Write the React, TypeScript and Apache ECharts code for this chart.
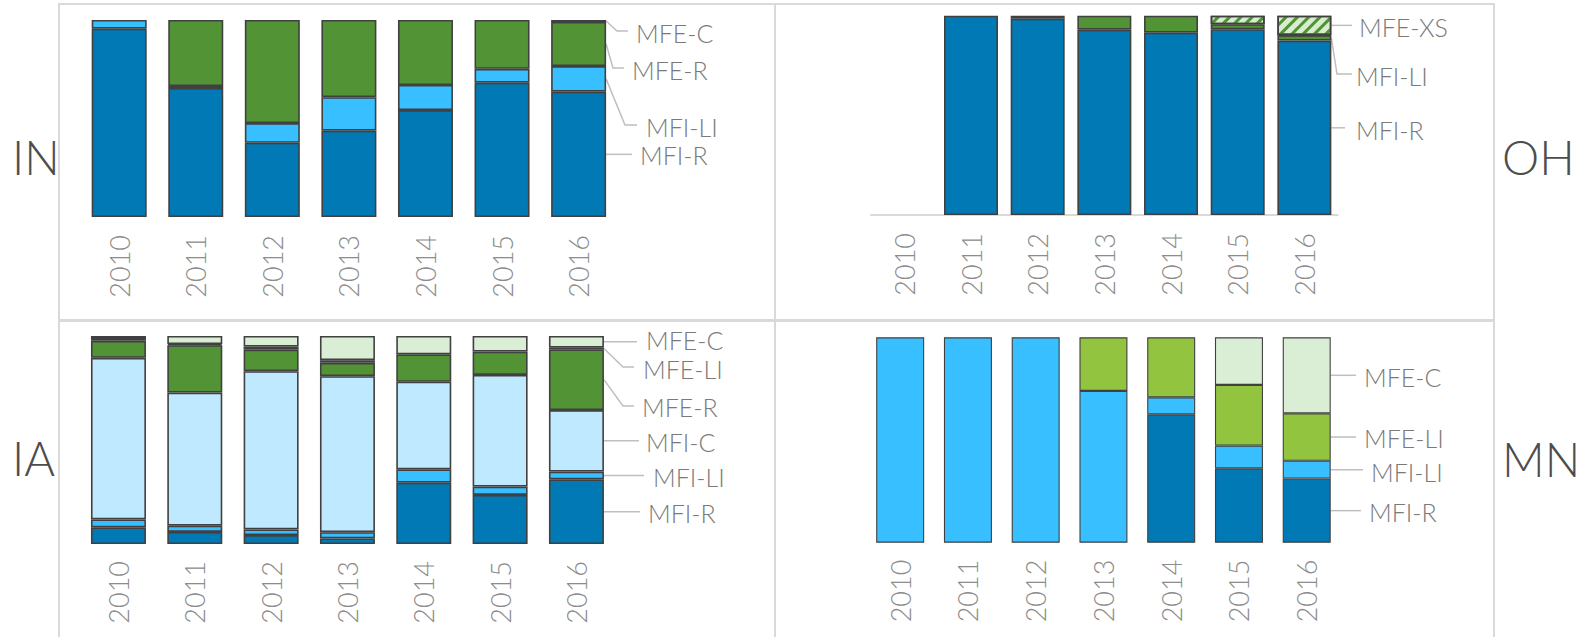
import React, { useEffect, useRef } from "react";
import * as echarts from "echarts";

// ---------- data ----------
const years = ["2010", "2011", "2012", "2013", "2014", "2015", "2016"];

// IN
const inMfiR = [95.6, 65.5, 37.7, 43.8, 54.3, 68.2, 63.6];
const inMfiLi = [4.4, 1.0, 10.0, 17.0, 12.7, 7.0, 13.0];
const inMfeR = [0, 33.5, 52.3, 39.2, 33.0, 24.8, 22.4];
const inMfeC = [0, 0, 0, 0, 0, 0, 1.0];

// OH
const ohMfiR = [0, 100, 98.5, 93.0, 91.5, 93.2, 87.5];
const ohMfiLi = [0, 0, 1.5, 7.0, 8.5, 2.5, 2.8];
const ohMfeXs = [0, 0, 0, 0, 0, 4.3, 9.7];

// IA
const iaMfiR = [8.0, 5.8, 4.3, 2.7, 29.5, 23.6, 31.1];
const iaMfiLi = [3.8, 3.0, 2.7, 3.0, 6.4, 4.0, 3.7];
const iaMfiC = [77.7, 64.0, 76.1, 75.0, 42.1, 53.7, 29.6];
const iaMfeR = [8.2, 22.8, 10.3, 6.4, 13.2, 11.2, 29.2];
const iaMfeLi = [1.3, 0.5, 1.5, 1.3, 0, 0, 0.8];
const iaMfeC = [1.0, 3.9, 5.1, 11.6, 8.8, 7.5, 5.6];

// MN
const mnMfiR = [0, 0, 0, 0, 62.5, 36.2, 31.2];
const mnMfiLi = [100, 100, 100, 73.9, 8.3, 11.1, 8.7];
const mnMfeLi = [0, 0, 0, 26.1, 29.2, 29.5, 23.1];
const mnMfeC = [0, 0, 0, 0, 0, 23.2, 37.0];

// ---------- styles ----------
const C = {
  mfiR: "#0079b4",
  mfiLi: "#38bfff",
  mfiC: "#bfe9ff",
  mfeR: "#529435",
  mfeLi: "#92c43f",
  mfeC: "#daeed5",
  mfeXs: "#d8ecd0",
};
const FONT = "Lato, 'Noto Sans', sans-serif";

type S = { name: string; data: number[]; color: string; hatch?: boolean };
type L = { name: string; textX: number; textY: number; endX: number; elbow?: [number, number] };
type P = {
  state: string;
  stateX: number;
  stateY: number;
  grid: { left: number; top: number; width: number; height: number };
  barWidth: number;
  border: number;
  axisLine: boolean;
  labelMargin: number;
  series: S[];
  labels: L[];
};

const panels: P[] = [
  {
    state: "IN",
    stateX: 12,
    stateY: 157,
    grid: { left: 80.9, top: 20, width: 536, height: 197 },
    barWidth: 55,
    border: 1.6,
    axisLine: false,
    labelMargin: 18,
    series: [
      { name: "MFI-R", data: inMfiR, color: C.mfiR },
      { name: "MFI-LI", data: inMfiLi, color: C.mfiLi },
      { name: "MFE-R", data: inMfeR, color: C.mfeR },
      { name: "MFE-C", data: inMfeC, color: C.mfeC },
    ],
    labels: [
      { name: "MFE-C", textX: 636, textY: 33, endX: 628, elbow: [617, 31] },
      { name: "MFE-R", textX: 632, textY: 70, endX: 624, elbow: [613, 68] },
      { name: "MFI-LI", textX: 646, textY: 127, endX: 637, elbow: [625, 125] },
      { name: "MFI-R", textX: 640, textY: 155, endX: 632 },
    ],
  },
  {
    state: "OH",
    stateX: 1502,
    stateY: 157,
    grid: { left: 871, top: 15.7, width: 466.7, height: 199.3 },
    barWidth: 54,
    border: 1.6,
    axisLine: true,
    labelMargin: 18,
    series: [
      { name: "MFI-R", data: ohMfiR, color: C.mfiR },
      { name: "MFI-LI", data: ohMfiLi, color: C.mfeR },
      { name: "MFE-XS", data: ohMfeXs, color: C.mfeXs, hatch: true },
    ],
    labels: [
      { name: "MFE-XS", textX: 1359, textY: 27, endX: 1352 },
      { name: "MFI-LI", textX: 1356, textY: 76, endX: 1352, elbow: [1337, 74] },
      { name: "MFI-R", textX: 1356, textY: 130, endX: 1345 },
    ],
  },
  {
    state: "IA",
    stateX: 12,
    stateY: 458,
    grid: { left: 80.3, top: 336, width: 534.3, height: 208 },
    barWidth: 55,
    border: 1.6,
    axisLine: false,
    labelMargin: 17,
    series: [
      { name: "MFI-R", data: iaMfiR, color: C.mfiR },
      { name: "MFI-LI", data: iaMfiLi, color: C.mfiLi },
      { name: "MFI-C", data: iaMfiC, color: C.mfiC },
      { name: "MFE-R", data: iaMfeR, color: C.mfeR },
      { name: "MFE-LI", data: iaMfeLi, color: C.mfeLi },
      { name: "MFE-C", data: iaMfeC, color: C.mfeC },
    ],
    labels: [
      { name: "MFE-C", textX: 646, textY: 340, endX: 637 },
      { name: "MFE-LI", textX: 643, textY: 369, endX: 634, elbow: [623, 367] },
      { name: "MFE-R", textX: 642, textY: 407, endX: 634, elbow: [623, 406] },
      { name: "MFI-C", textX: 646, textY: 442, endX: 639 },
      { name: "MFI-LI", textX: 653, textY: 477, endX: 644 },
      { name: "MFI-R", textX: 648, textY: 513, endX: 640 },
    ],
  },
  {
    state: "MN",
    stateX: 1502,
    stateY: 459,
    grid: { left: 866.3, top: 337.3, width: 474.3, height: 205.4 },
    barWidth: 48,
    border: 1.1,
    axisLine: false,
    labelMargin: 17,
    series: [
      { name: "MFI-R", data: mnMfiR, color: C.mfiR },
      { name: "MFI-LI", data: mnMfiLi, color: C.mfiLi },
      { name: "MFE-LI", data: mnMfeLi, color: C.mfeLi },
      { name: "MFE-C", data: mnMfeC, color: C.mfeC },
    ],
    labels: [
      { name: "MFE-C", textX: 1364, textY: 377, endX: 1356 },
      { name: "MFE-LI", textX: 1364, textY: 438, endX: 1356 },
      { name: "MFI-LI", textX: 1371, textY: 472, endX: 1363 },
      { name: "MFI-R", textX: 1369, textY: 512, endX: 1361 },
    ],
  },
];

const frames = [
  { x: 59, y: 4, w: 716, h: 316 },
  { x: 775, y: 4, w: 719, h: 316 },
  { x: 59, y: 321, w: 716, h: 330 },
  { x: 775, y: 321, w: 719, h: 330 },
];

export default function App() {
  const ref = useRef<HTMLDivElement>(null);
  useEffect(() => {
    document.body.style.margin = "0";
    const chart = echarts.init(ref.current!, null, { renderer: "svg" });
    const series: any[] = [];
    panels.forEach((p, gi) => {
      p.series.forEach((s) => {
        series.push({
          type: "bar",
          name: `${p.state} ${s.name}`,
          stack: p.state,
          xAxisIndex: gi,
          yAxisIndex: gi,
          barWidth: p.barWidth,
          data: s.data.map((v) => (v === 0 ? null : v)),
          itemStyle: {
            color: s.color,
            borderColor: "#404040",
            borderWidth: p.border,
            decal: s.hatch
              ? {
                  symbol: "rect",
                  symbolSize: 1,
                  color: "#4f9433",
                  dashArrayX: [1, 0],
                  dashArrayY: [3, 5],
                  rotation: -Math.PI / 4,
                }
              : undefined,
          },
        });
      });
    });

    chart.setOption({
      animation: false,
      grid: panels.map((p) => ({ ...p.grid, containLabel: false })),
      xAxis: panels.map((p, gi) => ({
        type: "category",
        gridIndex: gi,
        data: years,
        axisTick: { show: false },
        axisLine: { show: p.axisLine, lineStyle: { color: "#d9d9d9", width: 2 } },
        axisLabel: {
          rotate: 90,
          interval: 0,
          margin: p.labelMargin,
          fontSize: 27,
          fontFamily: FONT,
          fontWeight: 300,
          color: "#8c8c8c",
        },
      })),
      yAxis: panels.map((p, gi) => ({
        type: "value",
        gridIndex: gi,
        min: 0,
        max: 100,
        show: false,
        splitLine: { show: false },
      })),
      series,
    });

    const graphics: any[] = [];
    frames.forEach((f) =>
      graphics.push({
        type: "rect",
        shape: { x: f.x, y: f.y, width: f.w, height: f.h },
        style: { fill: "none", stroke: "#d9d9d9", lineWidth: 2 },
        z: -1,
      })
    );
    panels.forEach((p, gi) => {
      graphics.push({
        type: "text",
        x: p.stateX,
        y: p.stateY,
        style: {
          text: p.state,
          fontSize: 47,
          fontFamily: FONT,
          fontWeight: 300,
          fill: "#4d4d4d",
          verticalAlign: "middle",
          align: "left",
        },
      });
      const last = years.length - 1;
      let cum = 0;
      const mids: Record<string, number> = {};
      p.series.forEach((s) => {
        const v = s.data[last];
        mids[s.name] = cum + v / 2;
        cum += v;
      });
      p.labels.forEach((l) => {
        const pt = chart.convertToPixel({ xAxisIndex: gi, yAxisIndex: gi } as any, [last, mids[l.name]]) as number[];
        const ax = pt[0] + p.barWidth / 2;
        const ay = pt[1];
        const pts: number[][] = [[ax, ay]];
        if (l.elbow) {
          pts.push([l.elbow[0], l.elbow[1]]);
          pts.push([l.endX, l.elbow[1]]);
        } else {
          pts.push([l.endX, ay]);
        }
        graphics.push({
          type: "polyline",
          shape: { points: pts },
          style: { stroke: "#bfbfbf", lineWidth: 1.5, fill: "none" },
        });
        graphics.push({
          type: "text",
          x: l.textX,
          y: l.textY,
          style: {
            text: l.name,
            fontSize: 25,
            lineHeight: 20,
            fontFamily: FONT,
            fontWeight: 300,
            fill: "#7a7a7a",
            verticalAlign: "middle",
            align: "left",
          },
        });
      });
    });
    chart.setOption({ graphic: graphics });
    return () => chart.dispose();
  }, []);
  return <div ref={ref} style={{ width: 1580, height: 637 }} />;
}
